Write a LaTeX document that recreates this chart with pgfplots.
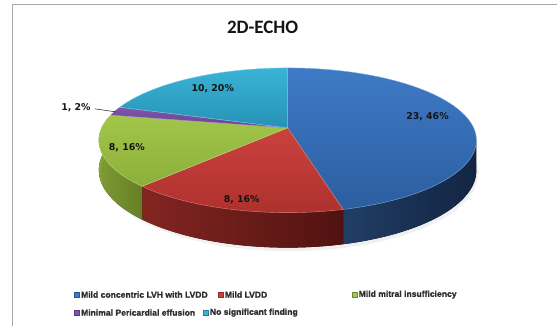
\documentclass[border=0pt]{standalone}
\usepackage{pgfplots}
\pgfplotsset{compat=1.18}
\usepgfplotslibrary{fillbetween}
\usepackage{fontspec}
\setmainfont{DejaVu Sans}
\newfontfamily\titlefont{Carlito}
\newfontfamily\legendfont{Liberation Sans}[BoldFeatures={FakeBold=1.2}]

% slice colours: top faces and side walls
\definecolor{blueT}{HTML}{3E7AC6}
\definecolor{blueT2}{HTML}{2C5E9F}
\definecolor{blueS}{HTML}{23426C}
\definecolor{blueS2}{HTML}{142746}
\definecolor{redT}{HTML}{CB423D}
\definecolor{redT2}{HTML}{AE312E}
\definecolor{redS}{HTML}{8C2824}
\definecolor{redS2}{HTML}{571412}
\definecolor{greenT}{HTML}{A2C64A}
\definecolor{greenT2}{HTML}{8CAF3A}
\definecolor{greenS}{HTML}{86A538}
\definecolor{greenS2}{HTML}{6C8829}
\definecolor{purpT}{HTML}{7E55AA}
\definecolor{purpT2}{HTML}{6A4493}
\definecolor{cyanT}{HTML}{3AB3D6}
\definecolor{cyanT2}{HTML}{2692B5}
\definecolor{framegray}{HTML}{A8A8A8}
\definecolor{txt}{HTML}{141414}

% counts per finding
\def\vA{23} % Mild concentric LVH with LVDD
\def\vB{8}  % Mild LVDD
\def\vC{8}  % Mild mitral insufficiency
\def\vD{1}  % Minimal Pericardial effusion
\def\vE{10} % No significant finding
\pgfmathsetmacro\total{\vA+\vB+\vC+\vD+\vE}
% slice boundaries, clockwise from 12 o'clock
\pgfmathsetmacro\aA{90}
\pgfmathsetmacro\aB{\aA-360*\vA/\total}
\pgfmathsetmacro\aC{\aB-360*\vB/\total}
\pgfmathsetmacro\aD{\aC-360*\vC/\total}
\pgfmathsetmacro\aE{\aD-360*\vD/\total}
\pgfmathsetmacro\aF{\aE-360*\vE/\total}

% perspective disc: centre, radii, depth factor, wall height
\def\cx{288}\def\cy{198}\def\rA{186.2}\def\rB{70.3}\def\kk{0.172}\def\hh{29}
\pgfmathsetmacro\lim{asin(\kk)}
\pgfmathsetmacro\sideL{-180-\lim}
\pgfmathsetmacro\sideR{-\lim}

\newcommand\rimx{\cx+\rA*cos(\t)/(1+\kk*sin(\t))}
\newcommand\rimy{\cy+\rB*sin(\t)/(1+\kk*sin(\t))}
\newcommand\rimyb{\cy+(\rB*sin(\t)-\hh)/(1+\kk*sin(\t))}

% legend entry: swatch centre x, y, colour, text
\newcommand\swatch[4]{%
  \fill[#3, draw=#3!70!black, line width=0.3pt] (axis cs:#1-2.6,#2-2.6) rectangle (axis cs:#1+2.6,#2+2.6);
  \node[font=\legendfont\bfseries\fontsize{8.6}{10}\selectfont, text=txt!90!white, anchor=west, inner sep=0pt] at (axis cs:#1+4,#2) {#4};}

\begin{document}
\begin{tikzpicture}
\begin{axis}[x=1pt, y=1pt, xmin=0, xmax=558, ymin=0, ymax=326,
  anchor=origin, at={(0pt,0pt)}, hide axis, clip=false,
  every axis plot/.append style={variable=\t, samples=60, line join=round}]

% soft shadow below the disc
\addplot[draw=none, fill=black, fill opacity=0.06, domain=-180:180, samples=60]
  ({\rimx+2},{\cy+(\rB*sin(\t)-\hh-3)/(1+\kk*sin(\t))});

% side walls of the front slices
\addplot[draw=none, name path=bT, domain=\aB:\sideR] ({\rimx},{\rimy});
\addplot[draw=none, name path=bB, domain=\aB:\sideR] ({\rimx},{\rimyb});
\addplot[left color=blueS, right color=blueS2, draw=none] fill between[of=bT and bB];
\addplot[draw=none, name path=rT, domain=\aC:\aB] ({\rimx},{\rimy});
\addplot[draw=none, name path=rB, domain=\aC:\aB] ({\rimx},{\rimyb});
\addplot[left color=redS, right color=redS2, draw=none] fill between[of=rT and rB];
\addplot[draw=none, name path=gT, domain=\sideL:\aC] ({\rimx},{\rimy});
\addplot[draw=none, name path=gB, domain=\sideL:\aC] ({\rimx},{\rimyb});
\addplot[left color=greenS, right color=greenS2, draw=none] fill between[of=gT and gB];

% top faces
\addplot[top color=blueT, bottom color=blueT2, draw=blueT!70!white, line width=0.4pt, domain=\aB:\aA]
  ({\rimx},{\rimy}) -- (axis cs:\cx,\cy) -- cycle;
\addplot[top color=redT, bottom color=redT2, draw=redT!70!white, line width=0.4pt, domain=\aC:\aB]
  ({\rimx},{\rimy}) -- (axis cs:\cx,\cy) -- cycle;
\addplot[top color=greenT, bottom color=greenT2, draw=greenT!70!white, line width=0.4pt, domain=\aD:\aC]
  ({\rimx},{\rimy}) -- (axis cs:\cx,\cy) -- cycle;
\addplot[top color=purpT, bottom color=purpT2, draw=purpT!70!white, line width=0.4pt, domain=\aE:\aD, samples=8]
  ({\rimx},{\rimy}) -- (axis cs:\cx,\cy) -- cycle;
\addplot[top color=cyanT, bottom color=cyanT2, draw=cyanT!70!white, line width=0.4pt, domain=\aF:\aE]
  ({\rimx},{\rimy}) -- (axis cs:\cx,\cy) -- cycle;

% data labels
\begin{scope}[every node/.style={font=\bfseries\fontsize{9.4}{11}\selectfont, text=txt, inner sep=0pt}]
\node at (axis cs:428,209) {23, 46\%};
\node at (axis cs:242,126) {8, 16\%};
\node at (axis cs:127,178) {8, 16\%};
\node at (axis cs:76,218) {1, 2\%};
\node at (axis cs:213,237) {10, 20\%};
\end{scope}
\draw[txt, line width=0.5pt] (axis cs:95,217) -- (axis cs:116,214);

% title
\node[font=\titlefont\bfseries\fontsize{19}{22}\selectfont, text=txt] at (axis cs:263,299) {2D-ECHO};

% legend
\swatch{77}{31}{blueT}{Mild concentric LVH with LVDD}
\swatch{221}{31}{redT}{Mild LVDD}
\swatch{355}{31}{greenT}{Mild mitral insufficiency}
\swatch{77}{13}{purpT}{Minimal Pericardial effusion}
\swatch{206}{13}{cyanT}{No significant finding}
\end{axis}
% chart frame
\draw[framegray, line width=1.4pt] (12.5pt,0pt) -- (12.5pt,321.5pt) -- (558pt,321.5pt);
\path (0pt,0pt) rectangle (558pt,326pt);
\end{tikzpicture}
\end{document}
